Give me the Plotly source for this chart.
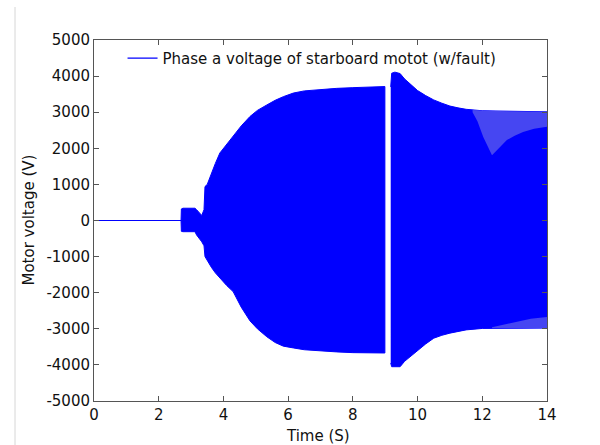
import plotly.graph_objects as go

# ---- data ----
# flat pre-start signal (legend entry)
t_pre = [0.0, 2.70]
v_pre = [0, 0]

# envelope of the signal before the fault gap (s, V)
t_a = [2.69, 2.70, 2.75, 3.12, 3.17, 3.33, 3.40, 3.43, 3.50, 3.63, 3.75, 3.89, 4.10,
       4.30, 4.55, 4.82, 5.05, 5.34, 5.60, 5.85, 6.16, 6.50, 7.00, 7.50, 8.00, 8.50, 8.99]
up_a = [0, 320, 340, 340, 300, 140, 300, 940, 1000, 1310, 1580, 1870, 2100,
        2320, 2620, 2880, 3050, 3200, 3330, 3430, 3530, 3590, 3630, 3660, 3680, 3700, 3710]
lo_a = [0, -300, -310, -310, -400, -590, -700, -1000, -1100, -1300, -1450, -1600, -1800,
        -1970, -2400, -2780, -3000, -3220, -3380, -3480, -3530, -3580, -3620, -3640, -3660, -3670, -3670]

# envelope after the fault gap
t_b = [9.17, 9.20, 9.30, 9.46, 9.60, 9.80, 10.0, 10.25, 10.5, 10.75, 11.0, 11.25, 11.5,
       12.0, 12.5, 13.0, 13.5, 14.0]
up_b = [3700, 4080, 4110, 4070, 3920, 3750, 3600, 3460, 3340, 3250, 3170, 3120, 3080,
        3040, 3030, 3020, 3010, 3010]
lo_b = [-3950, -4050, -4060, -4050, -3900, -3750, -3600, -3420, -3260, -3180, -3120, -3070, -3030,
        -2990, -2980, -2980, -2980, -2980]

# aliasing-streak band near the upper envelope (outer / inner solid edge)
t_su = [11.70, 11.85, 12.03, 12.30, 12.55, 12.76, 13.00, 13.26, 13.60, 14.00]
su_out = [3060, 3050, 3040, 3035, 3030, 3025, 3020, 3015, 3010, 3010]
su_in = [3000, 2750, 2310, 1810, 2050, 2230, 2350, 2450, 2540, 2600]

# aliasing-streak band near the lower envelope
t_sl = [12.30, 12.60, 13.07, 13.50, 14.00]
sl_out = [-2985, -2980, -2980, -2980, -2980]
sl_in = [-2960, -2900, -2800, -2720, -2670]

x_ticks = [0, 2, 4, 6, 8, 10, 12, 14]
y_ticks = [-5000, -4000, -3000, -2000, -1000, 0, 1000, 2000, 3000, 4000, 5000]

BLUE = "#0000ff"
FONT = "DejaVu Sans"


def band(t, top, bottom):
    return list(t) + list(t)[::-1], list(top) + list(bottom)[::-1]


fig = go.Figure()

for t, up, lo in [(t_a, up_a, lo_a), (t_b, up_b, lo_b)]:
    bx, by = band(t, up, lo)
    fig.add_trace(go.Scatter(x=bx, y=by, mode="lines", fill="toself", fillcolor=BLUE,
                             line=dict(color=BLUE, width=1), showlegend=False,
                             hoverinfo="skip"))

for t, o, i in [(t_su, su_out, su_in), (t_sl, sl_out, sl_in)]:
    bx, by = band(t, o, i)
    fig.add_trace(go.Scatter(x=bx, y=by, mode="lines", fill="toself",
                             fillcolor="#4646f2", line=dict(width=0),
                             showlegend=False, hoverinfo="skip"))

fig.add_trace(go.Scatter(x=t_pre, y=v_pre, mode="lines",
                         line=dict(color=BLUE, width=1.2),
                         name="Phase a voltage of starboard motot (w/fault)"))

axis_common = dict(showline=True, linecolor="#555555", linewidth=1, mirror="ticks",
                   ticks="inside", ticklen=5, tickcolor="#555555", showgrid=False,
                   zeroline=False, automargin=False,
                   tickfont=dict(family=FONT, size=15, color="#111111"))

fig.update_layout(
    width=600, height=445,
    margin=dict(l=94, r=53, t=40, b=44),
    paper_bgcolor="white", plot_bgcolor="white",
    font=dict(family=FONT, size=15, color="#111111"),
    xaxis=dict(range=[0, 14], tickvals=x_ticks, ticktext=[str(v) for v in x_ticks],
               **axis_common),
    yaxis=dict(range=[-5000, 5000], tickvals=y_ticks, ticktext=[str(v) for v in y_ticks],
               **axis_common),
    legend=dict(x=0.063, y=0.995, xanchor="left", yanchor="top",
                bgcolor="rgba(0,0,0,0)", borderwidth=0,
                font=dict(family=FONT, size=15, color="#111111")),
    annotations=[
        dict(text="Time (S)", xref="paper", yref="paper", x=(318 - 94) / 453,
             y=(401 - 436) / 361, xanchor="center", yanchor="middle", showarrow=False,
             font=dict(family=FONT, size=15, color="#111111")),
        dict(text="Motor voltage (V)", xref="paper", yref="paper", x=(28 - 94) / 453,
             y=0.5, xanchor="center", yanchor="middle", textangle=-90, showarrow=False,
             font=dict(family=FONT, size=15, color="#111111")),
    ],
    shapes=[dict(type="line", xref="paper", yref="paper",
                 x0=(15 - 94) / 453, x1=(15 - 94) / 453,
                 y0=(401 - 7) / 361, y1=(401 - 445) / 361,
                 line=dict(color="#d6d6d6", width=1))],
)

fig.write_html("out.html")
